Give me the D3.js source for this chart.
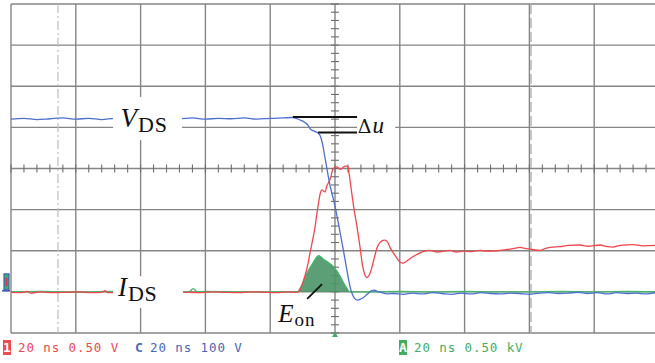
<!DOCTYPE html>
<html>
<head>
<meta charset="utf-8">
<script src="https://cdn.jsdelivr.net/npm/d3@7"></script>
<style>
  body { margin: 0; background: #fff; }
  svg { display: block; }
</style>
</head>
<body>
<svg id="scope" width="655" height="363"></svg>
<script>
// time in ns (20 ns/div), values in screen divisions (center = 0)
const vdsTrace = [
  [0, 1.20], [4, 1.22], [8, 1.19], [12, 1.21], [16, 1.23], [20, 1.20], [24, 1.22], [28, 1.19],
  [32, 1.22], [52, 1.21], [56, 1.23], [60, 1.20], [64, 1.22], [68, 1.21], [72, 1.23], [76, 1.20],
  [80, 1.22], [84, 1.23], [87.0, 1.24], [88.3, 1.21], [89.2, 1.18], [90.7, 1.12], [91.7, 1.05],
  [92.3, 0.97], [93.2, 0.92], [94.1, 0.89], [94.8, 0.86], [95.4, 0.80], [96.0, 0.65], [96.5, 0.45],
  [97.0, 0.22], [97.5, 0.0], [98.0, -0.22], [98.5, -0.42], [99.1, -0.62], [99.8, -0.85],
  [100.6, -1.15], [101.5, -1.52], [102.5, -1.95], [103.4, -2.35], [104.2, -2.70], [104.8, -2.92],
  [105.6, -3.10], [106.2, -3.17], [106.8, -3.20], [107.7, -3.18], [108.6, -3.15], [109.9, -3.06],
  [111.4, -2.97], [112.2, -2.96], [113.0, -2.99], [114.5, -3.02], [116, -3.05], [118, -3.04],
  [121, -3.06], [124, -3.03], [127, -3.05], [130, -3.02], [133, -3.04], [136, -3.06], [139, -3.03],
  [142, -3.05], [145, -3.02], [148, -3.04], [151, -3.05], [154, -3.03], [157, -3.04], [160, -3.06],
  [163, -3.03], [166, -3.02], [169, -3.04], [172, -3.03], [175, -3.01], [178, -3.04], [181, -3.02],
  [184, -3.05], [187, -3.02], [190, -3.04], [193, -3.03], [196, -3.05], [199, -3.02], [200, -3.03]
];

const idsTrace = [
  [0, -3.01], [3, -3.02], [5, -2.99], [6, -3.03], [9, -3.00], [13, -3.02], [17, -3.01], [21, -3.00],
  [25, -3.02], [28, -3.01], [29, -2.97], [30, -3.02], [34, -3.01], [55, -3.01], [58, -3.02],
  [62, -3.00], [66, -3.01], [70, -3.02], [74, -3.00], [78, -3.01], [82, -3.02], [85, -3.00],
  [88.3, -3.01], [89.2, -2.95], [90.7, -2.62], [91.7, -2.30], [92.3, -2.05], [93.2, -1.70],
  [93.8, -1.45], [94.4, -1.10], [95.0, -0.80], [95.4, -0.62], [96.0, -0.52], [96.5, -0.55],
  [96.9, -0.57], [97.5, -0.42], [98.1, -0.33], [98.8, -0.18], [99.2, -0.04], [100.0, 0.03],
  [100.6, 0.04], [101.2, 0.00], [101.8, -0.02], [102.5, 0.03], [103.4, 0.06], [104.0, 0.04],
  [104.4, -0.15], [105.0, -0.50], [105.8, -0.95], [106.8, -1.42], [107.7, -1.90], [108.6, -2.40],
  [109.3, -2.60], [109.9, -2.65], [110.7, -2.57], [111.4, -2.40], [112.2, -2.15], [113.0, -1.92],
  [113.9, -1.80], [114.8, -1.75], [115.4, -1.74], [116.3, -1.80], [117.0, -1.92], [118.0, -2.05],
  [119.1, -2.18], [120.1, -2.28], [121.0, -2.30], [122.0, -2.26], [123.2, -2.19], [125.3, -2.09],
  [127.2, -2.02], [129.3, -1.99], [131.5, -2.03], [133.5, -2.01], [135.5, -1.99], [137.5, -2.03],
  [139.5, -2.01], [142, -2.02], [144.8, -1.99], [147, -2.01], [150, -2.00], [153.1, -1.97],
  [155, -1.95], [157.1, -1.92], [159, -1.95], [161.1, -1.97], [163.3, -1.99], [165, -1.94],
  [167, -1.91], [169.4, -1.90], [172, -1.87], [175.6, -1.86], [178, -1.89], [181.8, -1.86],
  [184, -1.90], [185.8, -1.91], [188, -1.87], [192, -1.85], [195, -1.88], [198.8, -1.87], [200, -1.86]
];

const ponTrace = [
  [0, -3.00], [10, -2.99], [20, -3.01], [30, -2.99], [40, -3.00], [50, -3.00], [55, -3.00],
  [56.2, -2.92], [57.5, -3.00], [60, -2.99], [70, -3.00], [80, -3.00], [88.3, -3.00],
  [89.5, -2.88], [90.7, -2.65], [92.0, -2.45], [93.2, -2.30], [94.4, -2.15], [94.9, -2.12],
  [95.6, -2.15], [96.3, -2.20], [97.8, -2.28], [99.4, -2.38], [100.9, -2.53], [102.5, -2.76],
  [103.7, -2.92], [104.6, -3.00], [110, -3.00], [120, -2.99], [130, -3.00], [140, -2.99],
  [150, -3.00], [160, -3.00], [170, -2.99], [180, -3.00], [190, -2.99], [200, -3.00]
];

const eonRange = [88.3, 104.6];
const cursorTimes = [14.5, 160.5];
const deltaU = { top: 1.25, bottom: 0.875, t0: 87.0, t1: 94.8, tEnd: 106.8 };
const channelLabels = [
  { tag: "1", text: "20 ns 0.50 V", color: "#f0484f", x: 3, box: true },
  { tag: "C", text: "20 ns 100 V", color: "#4a66b8", x: 135, box: false },
  { tag: "A", text: "20 ns 0.50 kV", color: "#3fae63", x: 399, box: true }
];

const svg = d3.select("#scope");
const x = d3.scaleLinear().domain([0, 200]).range([11, 659]);
const y = d3.scaleLinear().domain([-4, 4]).range([333, 4]);

// grid
const grid = svg.append("g").attr("stroke", "#858585").attr("stroke-width", 1.4);
grid.selectAll(".v").data(d3.range(0, 201, 20)).join("line")
  .attr("x1", d => x(d)).attr("x2", d => x(d))
  .attr("y1", y(4)).attr("y2", y(-4));
grid.selectAll(".h").data(d3.range(-4, 5, 1)).join("line")
  .attr("x1", x(0)).attr("x2", x(200))
  .attr("y1", d => y(d)).attr("y2", d => y(d));

// center minor ticks
const ticks = svg.append("g").attr("stroke", "#6e6e6e").attr("stroke-width", 1.1);
ticks.selectAll(".tx").data(d3.range(0, 201, 4)).join("line")
  .attr("x1", d => x(d)).attr("x2", d => x(d))
  .attr("y1", y(0) - 4).attr("y2", y(0) + 4);
ticks.selectAll(".ty").data(d3.range(-4, 4.01, 0.2)).join("line")
  .attr("x1", x(100) - 4).attr("x2", x(100) + 4)
  .attr("y1", d => y(d)).attr("y2", d => y(d));

// cursors
svg.append("line")
  .attr("x1", x(cursorTimes[0])).attr("x2", x(cursorTimes[0]))
  .attr("y1", y(4)).attr("y2", y(-4))
  .attr("stroke", "#bdbdbd").attr("stroke-width", 1.2).attr("stroke-dasharray", "9,3,2,3");
svg.append("line")
  .attr("x1", x(cursorTimes[1])).attr("x2", x(cursorTimes[1]))
  .attr("y1", y(4)).attr("y2", y(-4))
  .attr("stroke", "#b0b0b0").attr("stroke-width", 1.4).attr("stroke-dasharray", "10,4");

const line = d3.line().x(d => x(d[0])).y(d => y(d[1])).curve(d3.curveMonotoneX);

// Eon area
const hump = ponTrace.filter(d => d[0] >= eonRange[0] && d[0] <= eonRange[1]);
svg.append("path").datum(hump)
  .attr("d", d3.area().x(d => x(d[0])).y0(y(-3)).y1(d => y(d[1])).curve(d3.curveMonotoneX))
  .attr("fill", "#4a9466").attr("opacity", 0.9);

svg.append("path").datum(ponTrace).attr("d", line)
  .attr("fill", "none").attr("stroke", "#45b56b").attr("stroke-width", 1.4);
svg.append("path").datum(idsTrace).attr("d", line)
  .attr("fill", "none").attr("stroke", "#f0474c").attr("stroke-width", 1.3);
svg.append("path").datum(vdsTrace).attr("d", line)
  .attr("fill", "none").attr("stroke", "#4a70d0").attr("stroke-width", 1.3);

// label boxes
const boxes = [
  [31.5, 52.8, 1.74, 0.69],
  [31.5, 53.1, -2.62, -3.39],
  [106.8, 118.6, 1.20, 0.74]
];
svg.selectAll(".box").data(boxes).join("rect")
  .attr("x", d => x(d[0])).attr("width", d => x(d[1]) - x(d[0]))
  .attr("y", d => y(d[2])).attr("height", d => y(d[3]) - y(d[2]))
  .attr("fill", "#fff");

// delta-u markers
svg.append("line")
  .attr("x1", x(deltaU.t0)).attr("x2", x(deltaU.tEnd))
  .attr("y1", y(deltaU.top)).attr("y2", y(deltaU.top))
  .attr("stroke", "#111").attr("stroke-width", 2);
svg.append("line")
  .attr("x1", x(deltaU.t1)).attr("x2", x(deltaU.tEnd))
  .attr("y1", y(deltaU.bottom)).attr("y2", y(deltaU.bottom))
  .attr("stroke", "#111").attr("stroke-width", 2);

// Eon leader
svg.append("line")
  .attr("x1", x(91.4)).attr("y1", y(-3.17))
  .attr("x2", x(96.0)).attr("y2", y(-2.81))
  .attr("stroke", "#111").attr("stroke-width", 1.8);

const serif = "'Liberation Serif', 'DejaVu Serif', serif";
function symbol(t, v, main, sub, size, subSize) {
  const txt = svg.append("text")
    .attr("x", x(t)).attr("y", y(v))
    .attr("font-family", serif).attr("font-size", size).attr("fill", "#111");
  txt.append("tspan").attr("font-style", "italic").text(main);
  txt.append("tspan").attr("font-size", subSize).attr("dy", size * 0.18).attr("dx", 1)
    .attr("letter-spacing", 0.8).text(sub);
  return txt;
}
symbol(33.8, 1.01, "V", "DS", 27, 22);
symbol(33.0, -3.10, "I", "DS", 27, 22);
symbol(82.5, -3.73, "E", "on", 25, 19);
const du = svg.append("text")
  .attr("x", x(107.0)).attr("y", y(0.86))
  .attr("font-family", serif).attr("font-size", 23).attr("fill", "#111");
du.append("tspan").attr("font-family", "'DejaVu Serif', serif").attr("font-size", 19).text("Δ");
du.append("tspan").attr("font-style", "italic").attr("dx", 1).text("u");

// trigger marker
svg.append("path")
  .attr("d", `M${x(100) - 3},${y(-4) + 4} L${x(100) + 3},${y(-4) + 4} L${x(100)},${y(-4) - 1} Z`)
  .attr("fill", "#3fae63");

// channel ground marker
const gm = svg.append("g");
gm.append("rect").attr("x", 4).attr("y", y(-3) - 18).attr("width", 5).attr("height", 16)
  .attr("fill", "#3fae63").attr("stroke", "#3a5fc0").attr("stroke-width", 1.2);
gm.append("rect").attr("x", 5.6).attr("y", y(-3) - 14).attr("width", 1.8).attr("height", 8)
  .attr("fill", "#e8303a");
gm.append("line").attr("x1", 2).attr("x2", 10).attr("y1", y(-3) - 1).attr("y2", y(-3) - 1)
  .attr("stroke", "#3a4fa0").attr("stroke-width", 1.5);

// channel readouts
const ro = svg.selectAll(".ro").data(channelLabels).join("g");
ro.filter(d => d.box).append("rect")
  .attr("x", d => d.x).attr("y", 340).attr("width", 8).attr("height", 15)
  .attr("fill", d => d.color);
ro.append("text")
  .attr("x", d => d.x + 4).attr("y", 352)
  .attr("text-anchor", "middle")
  .attr("font-family", "'DejaVu Sans Mono', monospace").attr("font-size", 13).attr("font-weight", "bold")
  .attr("fill", d => d.box ? "#fff" : d.color)
  .text(d => d.tag);
ro.append("text")
  .attr("x", d => d.x + 15).attr("y", 352)
  .attr("font-family", "'DejaVu Sans Mono', monospace").attr("font-size", 12.5)
  .attr("letter-spacing", 0.9)
  .attr("fill", d => d.color)
  .text(d => d.text);
</script>
</body>
</html>
